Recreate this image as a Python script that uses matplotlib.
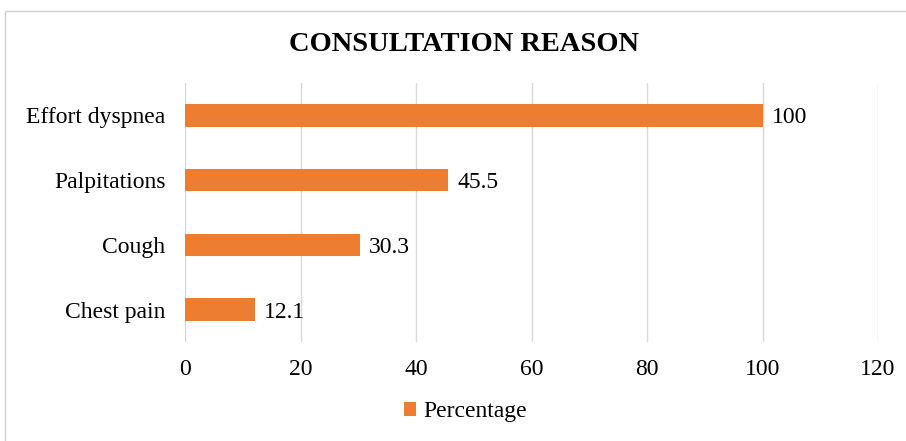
import matplotlib.pyplot as plt
from matplotlib.patches import Rectangle

reasons = ['Effort dyspnea', 'Palpitations', 'Cough', 'Chest pain']
percentages = [100, 45.5, 30.3, 12.1]
xticks = [0, 20, 40, 60, 80, 100, 120]

plt.rcParams['font.family'] = ['Liberation Serif', 'DejaVu Serif']

bar_color = '#ED7D31'
grid_color = '#D9D9D9'
fs = 17

fig = plt.figure(figsize=(9.06, 4.41), dpi=100)
ax = fig.add_axes([0.2042, 0.2245, 0.7650, 0.5873])

# frame around the whole chart
fig.patches.append(Rectangle((0.0055, -0.01), 1.0, 0.985, transform=fig.transFigure,
                             fill=False, edgecolor='#D0D0D0', linewidth=1.0))

ypos = list(range(len(reasons)))[::-1]
bars = ax.barh(ypos, percentages, height=0.35, color=bar_color, label='Percentage', zorder=3)

for y, v in zip(ypos, percentages):
    ax.text(v + 1.6, y, f'{v:g}', va='center_baseline', ha='left', fontsize=fs)

ax.set_xlim(0, 120)
ax.set_ylim(-0.5, len(reasons) - 0.5)
ax.set_xticks(xticks)
ax.set_xticklabels([str(t) for t in xticks], fontsize=fs)
ax.set_yticks(ypos)
ax.set_yticklabels(reasons, fontsize=fs)
ax.tick_params(axis='both', length=0)
ax.tick_params(axis='x', pad=12)
ax.tick_params(axis='y', pad=14)
ax.xaxis.grid(True, color=grid_color, linewidth=1.0, zorder=0)
for s in ax.spines.values():
    s.set_visible(False)

fig.text(0.512, 0.9, 'CONSULTATION REASON', ha='center', va='center',
         fontsize=20.5, fontweight='bold')

fig.legend(handles=[bars], labels=['Percentage'], loc='center', bbox_to_anchor=(0.514, 0.066),
           frameon=False, fontsize=fs, handlelength=0.5, handleheight=0.5, handletextpad=0.3)

fig.savefig('out.png', dpi=100)
